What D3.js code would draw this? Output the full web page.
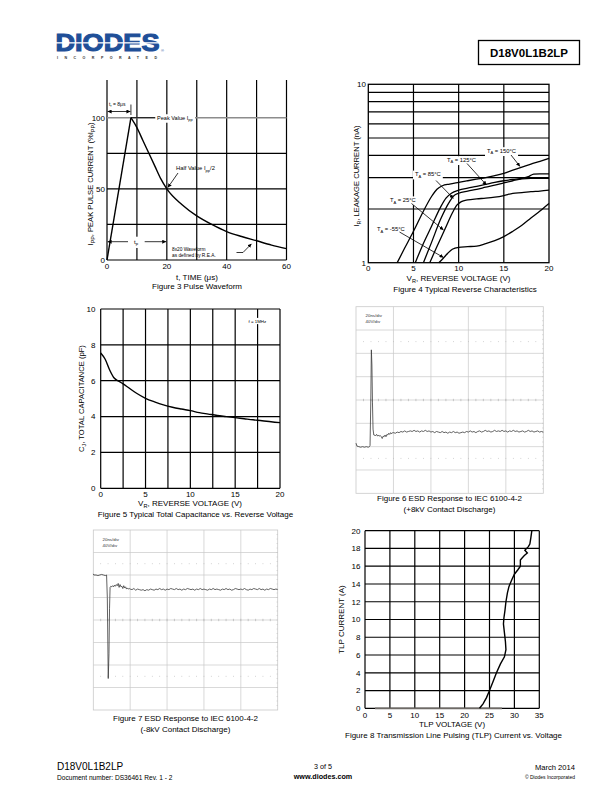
<!DOCTYPE html>
<html><head><meta charset="utf-8">
<script src="https://cdn.jsdelivr.net/npm/d3@7"></script>
<style>body{margin:0;background:#fff}svg{display:block}text{font-family:"Liberation Sans",Arial,sans-serif}</style>
</head><body>
<script>
// ---------------- DATA ----------------
// Figure 3 Pulse waveform
const fig3Time = [0, 8, 10, 12, 14, 16, 18, 20, 25, 30, 35, 40, 45, 50, 55, 60];
const fig3Current = [0, 100, 93, 84, 75, 66, 57, 50, 39, 31, 25, 20, 16.5, 13.5, 10.5, 8];
const fig3GridX = [0, 10, 20, 30, 40, 50, 60];
const fig3GridY = [0, 25, 50, 75];
const fig3TickX = [0, 20, 40, 60];
const fig3TickY = [0, 50, 100];

// Figure 4 Typical reverse characteristics (V, nA)
const fig4V150 = [3.2, 4, 5, 6, 7, 7.6, 8.2, 9, 10, 11, 12, 13, 14, 15, 16, 17, 18, 19, 20];
const fig4I150 = [1, 1.2, 1.5, 1.9, 2.35, 2.58, 2.7, 2.76, 2.82, 2.88, 2.94, 3.0, 3.08, 3.17, 3.3, 3.43, 3.57, 3.7, 3.85];
const fig4V125 = [5.2, 6, 7, 8, 8.6, 9.2, 10, 11, 12, 13, 14, 15, 16, 17, 17.8, 18.3, 19, 20];
const fig4I125 = [1, 1.25, 1.6, 2.05, 2.3, 2.45, 2.55, 2.62, 2.68, 2.75, 2.82, 2.88, 2.93, 2.97, 3.05, 3.14, 3.15, 3.15];
const fig4V85 = [6.1, 7, 8, 9, 9.5, 10, 11, 12, 13, 14, 15, 16, 17, 18, 19, 20];
const fig4I85 = [1, 1.3, 1.75, 2.2, 2.38, 2.45, 2.52, 2.58, 2.65, 2.72, 2.8, 2.88, 2.95, 2.97, 2.97, 2.97];
const fig4V25 = [6.8, 7.5, 8.5, 9.3, 9.8, 10.3, 11, 12, 13, 14, 15, 16, 17, 18, 19, 20];
const fig4I25 = [1, 1.2, 1.55, 1.9, 2.1, 2.2, 2.25, 2.28, 2.3, 2.33, 2.38, 2.45, 2.47, 2.5, 2.52, 2.55];
const fig4Vm55 = [7.8, 8.3, 8.8, 9.3, 10, 11, 12, 13, 14, 15, 16, 17, 18, 19, 20];
const fig4Im55 = [1, 1.06, 1.13, 1.19, 1.22, 1.23, 1.24, 1.28, 1.33, 1.4, 1.5, 1.62, 1.78, 1.95, 2.15];
const fig4Labels = ["150", "125", "85", "25", "-55"];
const fig4GridY = [2, 3, 4, 5, 6, 7, 8, 9];
const fig4GridX = [5, 10, 15];
const fig4TickX = [0, 5, 10, 15, 20];
const fig4TickY = [1, 10];

// Figure 5 Capacitance vs reverse voltage
const fig5Voltage = [0, 0.5, 1, 1.5, 2, 2.5, 3, 4, 5, 6, 7, 8, 9, 10, 11, 12, 13, 14, 15, 16, 17, 18, 19, 20];
const fig5Cap = [7.55, 7.2, 6.6, 6.15, 5.98, 5.82, 5.65, 5.3, 5.02, 4.82, 4.65, 4.52, 4.42, 4.33, 4.22, 4.14, 4.06, 4.0, 3.94, 3.88, 3.82, 3.77, 3.71, 3.66];
const fig5GridX = [0, 2.5, 5, 7.5, 10, 12.5, 15, 17.5, 20];
const fig5GridY = [0, 2, 4, 6, 8, 10];
const fig5TickX = [0, 5, 10, 15, 20];

// Scope traces: time (ns), voltage (V)
const scopeTimeLate = [20,21,22,23,24,25,26,27,28,29,30,31,32,33,34,35,36,37,38,39,40,41,42,43,44,45,46,47,48,49,50,51,52,53,54,55,56,57,58,59,60,61,62,63,64,65,66,67,68,69,70,71,72,73,74,75,76,77,78,79,80,81,82,83,84,85,86,87,88,89,90,91,92,93,94,95,96,97,98,99,100];
// Figure 6 ESD +8kV
const fig6TimeEarly = [0,0.5,1.5,2.5,3.5,4.5,5.5,6.5,7.2,7.5,7.9,8.2,8.5,8.8,9.1,9.5,10.5,11,11.5,12,12.5,13,13.5,14,14.5,15,15.5,16,16.5,17,17.5,18,18.5,19,19.5];
const fig6VoltEarly = [-74,-79,-80,-81,-80,-81,-80,-81,-80,-78,0,86,60,-5,-50,-60,-61,-59,-62,-60,-62,-61,-63,-66,-62,-63,-60,-63,-59,-60,-57,-59,-56,-58,-56];
const fig6VoltLate = [-56,-57,-55,-56,-54,-55,-53,-55,-54,-53,-54,-52,-54,-53,-55,-53,-54,-52,-54,-53,
  -55,-54,-56,-54,-55,-56,-54,-56,-55,-57,-55,-56,-54,-56,-55,-57,-56,-55,-56,-54,
  -55,-53,-55,-54,-56,-54,-53,-55,-54,-52,-54,-53,-55,-54,-52,-54,-53,-54,-52,-54,
  -53,-55,-53,-54,-52,-54,-53,-55,-54,-53,-55,-54,-52,-54,-53,-55,-54,-53,-55,-54,-55];
// Figure 7 ESD -8kV
const fig7TimeEarly = [0,0.3,1.5,2.5,3.5,4.5,5.5,6.5,7.2,7.6,8.1,8.5,8.8,9.1,9.5,10,10.5,11,11.5,12,12.5,13,13.5,14,14.5,15,15.5,16,16.5,17,17.5,18,18.5,19,19.5];
const fig7VoltEarly = [82,80,80,79,80,81,80,79,80,40,-104,-60,20,58,60,59,61,59,62,60,63,61,65,58,63,59,60,56,61,57,59,55,57,55,56];
const fig7VoltLate = [55,54,56,53,55,54,53,54,52,54,53,55,54,53,55,54,56,54,55,53,
  55,54,56,55,54,56,54,55,53,55,54,56,55,54,55,53,55,54,56,54,
  55,54,53,55,54,56,54,55,54,53,55,54,56,54,55,53,54,56,55,54,
  55,54,56,54,53,55,54,56,55,54,56,54,55,53,55,54,56,55,54,55,54];
const scopeLabels = ["20ns/div", "40V/div"];

// Figure 8 TLP
const fig8Voltage = [23.0, 23.7, 24.4, 25.0, 25.7, 26.4, 27.2, 28.0, 28.3, 28.2, 28.0, 27.8, 27.9, 28.1, 28.3, 28.6, 28.9, 29.2, 29.5, 30.0, 30.7, 31.2, 31.2, 31.5, 32.0, 32.6, 32.1, 32.8, 33.1, 33.3, 33.5];
const fig8Current = [0, 0.5, 1.2, 2, 3, 4, 5, 5.8, 6.6, 7.5, 8.5, 9.5, 10.2, 11, 12, 13, 13.7, 14.1, 14.5, 15.1, 15.6, 16, 16.7, 16.9, 17.2, 17.5, 17.8, 18.2, 18.5, 19.2, 20];
const fig8BaseV = [2, 27.5];
const fig8BaseI = [0, 0];
const fig8TickX = [0, 5, 10, 15, 20, 25, 30, 35];
const fig8TickY = [0, 2, 4, 6, 8, 10, 12, 14, 16, 18, 20];

// ---------------- DRAW ----------------
const svg = d3.select("body").append("svg").attr("width", 612).attr("height", 792);
svg.append("rect").attr("width", 612).attr("height", 792).attr("fill", "#fff");
const defs = svg.append("defs");
defs.append("marker").attr("id", "ah").attr("viewBox", "0 0 10 10").attr("refX", 10).attr("refY", 5)
  .attr("markerUnits", "userSpaceOnUse").attr("markerWidth", 4).attr("markerHeight", 4)
  .attr("orient", "auto-start-reverse")
  .append("path").attr("d", "M0,0L10,5L0,10z").attr("fill", "#000");

function rich(g, x, y, parts, o = {}) {
  const fs = o.size || 8;
  const t = g.append("text").attr("x", x).attr("y", y).attr("font-size", fs)
    .attr("text-anchor", o.anchor || "start").attr("fill", o.fill || "#000");
  if (o.weight) t.attr("font-weight", o.weight);
  if (o.rotate) t.attr("transform", `rotate(${o.rotate},${x},${y})`);
  let shift = 0;
  parts.forEach(p => {
    const s = typeof p === "string" ? { s: p } : p;
    const target = s.sub ? fs * 0.28 : 0;
    const ts = t.append("tspan").text(s.s).attr("dy", target - shift);
    if (s.sub) ts.attr("font-size", fs * 0.7);
    shift = target;
  });
  return t;
}
function boxed(t, pad = 1) {
  const b = t.node().getBBox();
  d3.select(t.node().parentNode).insert("rect", () => t.node())
    .attr("x", b.x - pad).attr("y", b.y - pad * 0.3).attr("width", b.width + 2 * pad)
    .attr("height", b.height + pad * 0.6).attr("fill", "#fff");
  return t;
}
function arrow(g, pts, both = false, w = 0.8) {
  const p = g.append("path").attr("d", d3.line()(pts)).attr("fill", "none")
    .attr("stroke", "#000").attr("stroke-width", w).attr("marker-end", "url(#ah)");
  if (both) p.attr("marker-start", "url(#ah)");
}

// ---------- Header ----------
const hdr = svg.append("g");
hdr.append("text").attr("x", 55.5).attr("y", 51.2).attr("font-size", 23.5).attr("font-weight", "bold")
  .attr("fill", "#1f4f98").attr("stroke", "#1f4f98").attr("stroke-width", 1.1)
  .attr("textLength", 104).attr("lengthAdjust", "spacingAndGlyphs").text("DIODES");
hdr.append("rect").attr("x", 55).attr("y", 42.2).attr("width", 106).attr("height", 1.3).attr("fill", "#fff");
hdr.append("text").attr("x", 161).attr("y", 51.5).attr("font-size", 4).attr("fill", "#1f4f98").text("®");
hdr.append("text").attr("x", 57).attr("y", 59).attr("font-size", 3.6).attr("font-weight", "bold")
  .attr("fill", "#333").attr("textLength", 100).attr("lengthAdjust", "spacing").text("INCORPORATED");
hdr.append("rect").attr("x", 478.5).attr("y", 40.5).attr("width", 101).attr("height", 24)
  .attr("fill", "none").attr("stroke", "#000").attr("stroke-width", 1.3);
hdr.append("text").attr("x", 529).attr("y", 57).attr("text-anchor", "middle").attr("font-size", 11.5)
  .attr("font-weight", "bold").text("D18V0L1B2LP");

// ---------- Figure 3 ----------
{
  const g = svg.append("g");
  const x = d3.scaleLinear().domain([0, 60]).range([107, 286.5]);
  const y = d3.scaleLinear().domain([0, 126.5]).range([260, 80]);
  g.selectAll(".vx").data(fig3GridX).join("line").attr("x1", d => x(d)).attr("x2", d => x(d))
    .attr("y1", y(0)).attr("y2", y(126.5)).attr("stroke", "#000").attr("stroke-width", 1.2);
  g.selectAll(".hy").data(fig3GridY).join("line").attr("x1", x(0)).attr("x2", x(60))
    .attr("y1", d => y(d)).attr("y2", d => y(d)).attr("stroke", "#000").attr("stroke-width", 1.2);
  g.append("line").attr("x1", x(0)).attr("x2", x(60)).attr("y1", y(100)).attr("y2", y(100))
    .attr("stroke", "#8c8c8c").attr("stroke-width", 1.6);
  g.selectAll(".tx").data(fig3TickX).join("text").attr("x", d => x(d)).attr("y", 269)
    .attr("text-anchor", "middle").attr("font-size", 8).text(d => d);
  g.selectAll(".ty").data(fig3TickY).join("text").attr("x", 105).attr("y", d => y(d) + 2.8)
    .attr("text-anchor", "end").attr("font-size", 8).text(d => d);
  // annotations
  boxed(rich(g, 157, y(100) + 2, ["Peak Value I", { s: "pp", sub: true }], { size: 5.6 }), 1.5);
  g.append("line").attr("x1", x(8)).attr("x2", 155).attr("y1", y(100)).attr("y2", y(100))
    .attr("stroke", "#000").attr("stroke-width", 0.9);
  rich(g, 109, 106, ["t", { s: "r", sub: true }, " = 8μs"], { size: 5 });
  g.append("line").attr("x1", x(8)).attr("x2", x(8)).attr("y1", 104.5).attr("y2", 115)
    .attr("stroke", "#000").attr("stroke-width", 0.8);
  arrow(g, [[x(0) + 0.6, 111.5], [x(8) - 0.5, 111.5]], true);
  arrow(g, [[x(0) + 0.6, 241.7], [x(20) - 0.6, 241.7]], true);
  boxed(rich(g, 134, 243.5, ["t", { s: "p", sub: true }], { size: 6 }), 6);
  rich(g, 176, 170, ["Half Value I", { s: "pp", sub: true }, "/2"], { size: 5.8 });
  arrow(g, [[178, 173], [167.8, 187.6]]);
  rich(g, 172, 250.5, ["8x20 Waveform"], { size: 4.8 });
  rich(g, 172, 256.5, ["as defined by R.E.A."], { size: 4.8 });
  arrow(g, [[236.5, 252.5], [243, 252.5], [251.5, 243.8]]);
  // curve: linear rise, smooth decay
  const pts = d3.zip(fig3Time, fig3Current);
  g.append("path").datum(pts.slice(0, 2))
    .attr("d", d3.line().x(d => x(d[0])).y(d => y(d[1])))
    .attr("fill", "none").attr("stroke", "#000").attr("stroke-width", 1.4);
  g.append("path").datum(pts.slice(1))
    .attr("d", d3.line().x(d => x(d[0])).y(d => y(d[1])).curve(d3.curveMonotoneX))
    .attr("fill", "none").attr("stroke", "#000").attr("stroke-width", 1.4);
  rich(g, 92.5, 184, ["I", { s: "PP", sub: true }, ", PEAK PULSE CURRENT (%I", { s: "PP", sub: true }, ")"],
    { size: 7.6, anchor: "middle", rotate: -90 });
  rich(g, 197, 280, ["t, TIME (μs)"], { size: 8, anchor: "middle" });
  rich(g, 197, 289, ["Figure 3 Pulse Waveform"], { size: 8, anchor: "middle" });
}

// ---------- Figure 4 ----------
{
  const g = svg.append("g");
  const x = d3.scaleLinear().domain([0, 20]).range([368.3, 549]);
  const y = d3.scaleLog().domain([1, 10]).range([262.7, 84.3]);
  g.selectAll(".hy").data(fig4GridY).join("line").attr("x1", x(0)).attr("x2", x(20))
    .attr("y1", d => y(d)).attr("y2", d => y(d)).attr("stroke", "#000").attr("stroke-width", 1.2);
  g.selectAll(".vx").data(fig4GridX).join("line").attr("x1", d => x(d)).attr("x2", d => x(d))
    .attr("y1", y(1)).attr("y2", y(10)).attr("stroke", "#000").attr("stroke-width", 1.2);
  g.append("rect").attr("x", x(0)).attr("y", y(10)).attr("width", x(20) - x(0)).attr("height", y(1) - y(10))
    .attr("fill", "none").attr("stroke", "#000").attr("stroke-width", 1.3);
  g.selectAll(".tx").data(fig4TickX).join("text").attr("x", d => x(d)).attr("y", 271)
    .attr("text-anchor", "middle").attr("font-size", 8).text(d => d);
  g.selectAll(".ty").data(fig4TickY).join("text").attr("x", 366).attr("y", d => y(d) + 2.8)
    .attr("text-anchor", "end").attr("font-size", 8).text(d => d);
  const labelPos = [[487, 152.8], [447, 161.8], [415, 176.2], [390, 202], [377, 231]];
  const arrows = [[[511, 155], [520, 166.5]], [[467, 163.5], [486.5, 185]], [[436, 180.5], [453.5, 198.5]],
    [[411.5, 203.5], [443.5, 230]], [[399.5, 232], [443.5, 257.5]]];
  fig4Labels.forEach((lab, i) => {
    boxed(rich(g, labelPos[i][0], labelPos[i][1], ["T", { s: "A", sub: true }, " = " + lab + "°C"], { size: 5.8 }), 2);
  });
  const curves = [[fig4V150, fig4I150], [fig4V125, fig4I125], [fig4V85, fig4I85], [fig4V25, fig4I25], [fig4Vm55, fig4Im55]];
  const ln = d3.line().x(d => x(d[0])).y(d => y(d[1])).curve(d3.curveMonotoneX);
  curves.forEach(c => g.append("path").datum(d3.zip(c[0], c[1])).attr("d", ln)
    .attr("fill", "none").attr("stroke", "#000").attr("stroke-width", 1.3));
  arrows.forEach(a => arrow(g, a));
  rich(g, 359, 176, ["I", { s: "R", sub: true }, ", LEAKAGE CURRENT (nA)"], { size: 7.6, anchor: "middle", rotate: -90 });
  rich(g, 458.5, 281, ["V", { s: "R", sub: true }, ", REVERSE VOLTAGE (V)"], { size: 8, anchor: "middle" });
  rich(g, 465, 291.5, ["Figure 4 Typical Reverse Characteristics"], { size: 8, anchor: "middle" });
}

// ---------- Figure 5 ----------
{
  const g = svg.append("g");
  const x = d3.scaleLinear().domain([0, 20]).range([100.7, 280]);
  const y = d3.scaleLinear().domain([0, 10]).range([488.3, 309]);
  g.selectAll(".hy").data(fig5GridY).join("line").attr("x1", x(0)).attr("x2", x(20))
    .attr("y1", d => y(d)).attr("y2", d => y(d)).attr("stroke", "#000").attr("stroke-width", 1.2);
  g.selectAll(".vx").data(fig5GridX).join("line").attr("x1", d => x(d)).attr("x2", d => x(d))
    .attr("y1", y(0)).attr("y2", y(10)).attr("stroke", "#000").attr("stroke-width", 1.2);
  g.selectAll(".tx").data(fig5TickX).join("text").attr("x", d => x(d)).attr("y", 497)
    .attr("text-anchor", "middle").attr("font-size", 8).text(d => d);
  g.selectAll(".ty").data(fig5GridY).join("text").attr("x", 95.5).attr("y", d => y(d) + 2.8)
    .attr("text-anchor", "end").attr("font-size", 8).text(d => d);
  boxed(rich(g, 248.5, 322.5, ["f = 1MHz"], { size: 4.4 }), 2);
  g.append("path").datum(d3.zip(fig5Voltage, fig5Cap))
    .attr("d", d3.line().x(d => x(d[0])).y(d => y(d[1])).curve(d3.curveMonotoneX))
    .attr("fill", "none").attr("stroke", "#000").attr("stroke-width", 1.4);
  rich(g, 83.5, 398.5, ["C", { s: "J", sub: true }, ", TOTAL CAPACITANCE (pF)"], { size: 7.6, anchor: "middle", rotate: -90 });
  rich(g, 190, 505.5, ["V", { s: "R", sub: true }, ", REVERSE VOLTAGE (V)"], { size: 8, anchor: "middle" });
  rich(g, 195.5, 516.5, ["Figure 5 Typical Total Capacitance vs. Reverse Voltage"], { size: 8, anchor: "middle" });
}

// ---------- Scope figures ----------
function scope(x0, x1, y0, y1, tArr, vArr, labX, labY) {
  const g = svg.append("g");
  const x = d3.scaleLinear().domain([0, 100]).range([x0, x1]);
  const y = d3.scaleLinear().domain([-160, 160]).range([y1, y0]);
  const gc = "#c9c9c9";
  g.selectAll(".vx").data([20, 40, 60, 80]).join("line").attr("x1", d => x(d)).attr("x2", d => x(d))
    .attr("y1", y0).attr("y2", y1).attr("stroke", gc).attr("stroke-width", 0.7);
  g.selectAll(".hy").data([-120, -80, -40, 0, 40, 80, 120]).join("line").attr("x1", x0).attr("x2", x1)
    .attr("y1", d => y(d)).attr("y2", d => y(d)).attr("stroke", gc).attr("stroke-width", 0.7);
  g.append("rect").attr("x", x0).attr("y", y0).attr("width", x1 - x0).attr("height", y1 - y0)
    .attr("fill", "none").attr("stroke", gc).attr("stroke-width", 0.8);
  const minor = d3.range(4, 100, 4);
  g.selectAll(".mt").data(minor).join("line").attr("x1", d => x(d)).attr("x2", d => x(d))
    .attr("y1", y(0) - 1.2).attr("y2", y(0) + 1.2).attr("stroke", "#aaa").attr("stroke-width", 0.6);
  [100, -100].forEach(v => g.selectAll(".dt" + (v > 0 ? "p" : "n")).data(minor).join("rect")
    .attr("x", d => x(d) - 0.4).attr("y", y(v) - 0.4).attr("width", 0.8).attr("height", 0.8).attr("fill", "#bbb"));
  g.selectAll(".rt").data(d3.range(-152, 160, 8)).join("line").attr("x1", x1 - 1.2).attr("x2", x1)
    .attr("y1", d => y(d)).attr("y2", d => y(d)).attr("stroke", "#bbb").attr("stroke-width", 0.5);
  scopeLabels.forEach((s, i) => g.append("text").attr("x", labX).attr("y", labY + i * 6.2)
    .attr("font-size", 4.4).attr("fill", "#333").text(s));
  g.append("path").datum(d3.zip(tArr, vArr))
    .attr("d", d3.line().x(d => x(d[0])).y(d => y(d[1])))
    .attr("fill", "none").attr("stroke", "#3a3a3a").attr("stroke-width", 0.8);
  return g;
}
scope(356, 543.3, 306.7, 493.3, fig6TimeEarly.concat(scopeTimeLate), fig6VoltEarly.concat(fig6VoltLate), 365.5, 316.5);
rich(svg, 449.5, 500.5, ["Figure 6 ESD Response to IEC 6100-4-2"], { size: 8, anchor: "middle" });
rich(svg, 449.5, 512, ["(+8kV Contact Discharge)"], { size: 8, anchor: "middle" });
scope(93.3, 277.7, 530, 710, fig7TimeEarly.concat(scopeTimeLate), fig7VoltEarly.concat(fig7VoltLate), 102.5, 541);
rich(svg, 185.5, 720.5, ["Figure 7 ESD Response to IEC 6100-4-2"], { size: 8, anchor: "middle" });
rich(svg, 185.5, 731.5, ["(-8kV Contact Discharge)"], { size: 8, anchor: "middle" });

// ---------- Figure 8 ----------
{
  const g = svg.append("g");
  const x = d3.scaleLinear().domain([0, 35]).range([365, 539.3]);
  const y = d3.scaleLinear().domain([0, 20]).range([708.3, 530.7]);
  g.selectAll(".hy").data(fig8TickY).join("line").attr("x1", x(0)).attr("x2", x(35))
    .attr("y1", d => y(d)).attr("y2", d => y(d)).attr("stroke", "#000").attr("stroke-width", 1.2);
  g.selectAll(".vx").data(fig8TickX).join("line").attr("x1", d => x(d)).attr("x2", d => x(d))
    .attr("y1", y(0)).attr("y2", y(20)).attr("stroke", "#000").attr("stroke-width", 1.2);
  g.selectAll(".tx").data(fig8TickX).join("text").attr("x", d => x(d)).attr("y", 717.5)
    .attr("text-anchor", "middle").attr("font-size", 8).text(d => d);
  g.selectAll(".ty").data(fig8TickY).join("text").attr("x", 360.5).attr("y", d => y(d) + 2.8)
    .attr("text-anchor", "end").attr("font-size", 8).text(d => d);
  const ln = d3.line().x(d => x(d[0])).y(d => y(d[1]));
  g.append("path").datum(d3.zip(fig8BaseV, fig8BaseI)).attr("d", ln)
    .attr("fill", "none").attr("stroke", "#6e6a66").attr("stroke-width", 1.8);
  g.append("path").datum(d3.zip(fig8Voltage, fig8Current)).attr("d", ln)
    .attr("fill", "none").attr("stroke", "#000").attr("stroke-width", 1.4);
  rich(g, 343.5, 619.5, ["TLP CURRENT (A)"], { size: 8, anchor: "middle", rotate: -90 });
  rich(g, 452, 726.5, ["TLP VOLTAGE (V)"], { size: 8, anchor: "middle" });
  rich(g, 453.5, 737.5, ["Figure 8 Transmission Line Pulsing (TLP) Current vs. Voltage"], { size: 8, anchor: "middle" });
}

// ---------- Footer ----------
{
  const g = svg.append("g");
  g.append("text").attr("x", 57).attr("y", 770).attr("font-size", 10).text("D18V0L1B2LP");
  g.append("text").attr("x", 57).attr("y", 779.5).attr("font-size", 6.6).text("Document number: DS36461  Rev. 1 - 2");
  g.append("text").attr("x", 323).attr("y", 769).attr("font-size", 7.2).attr("text-anchor", "middle").text("3 of 5");
  g.append("text").attr("x", 323).attr("y", 779).attr("font-size", 7.2).attr("font-weight", "bold")
    .attr("text-anchor", "middle").text("www.diodes.com");
  g.append("text").attr("x", 575).attr("y", 770).attr("font-size", 7.6).attr("text-anchor", "end").text("March 2014");
  g.append("text").attr("x", 575).attr("y", 779).attr("font-size", 5).attr("text-anchor", "end").text("© Diodes Incorporated");
}
</script>
</body></html>
